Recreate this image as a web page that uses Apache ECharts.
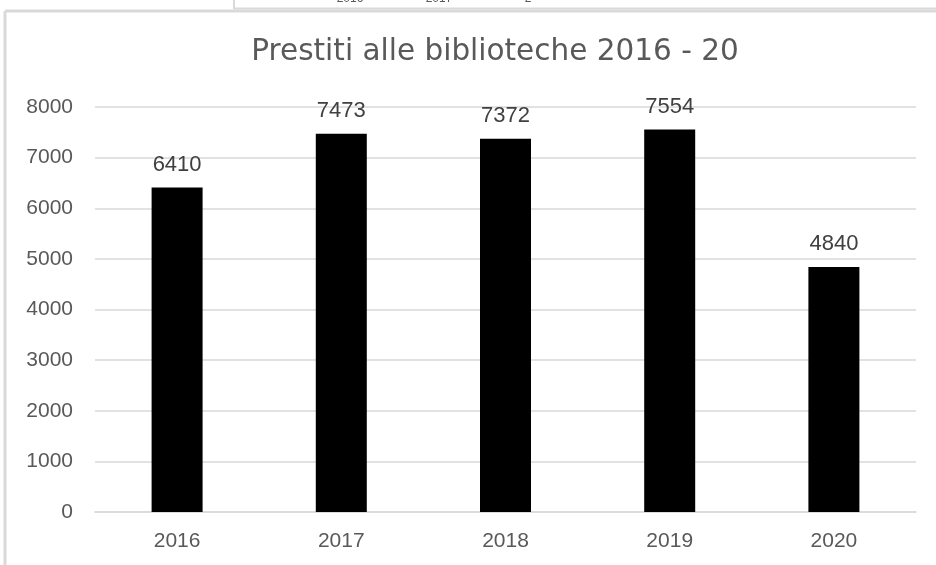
<!DOCTYPE html>
<html>
<head>
<meta charset="utf-8">
<script src="https://cdn.jsdelivr.net/npm/echarts@6/dist/echarts.min.js"></script>
<style>
  html, body { margin: 0; padding: 0; background: #fff; }
  #chart { width: 936px; height: 565px; }
</style>
</head>
<body>
<div id="chart"></div>
<script>
const years = ['2016', '2017', '2018', '2019', '2020']
const loans = [6410, 7473, 7372, 7554, 4840]
const topStripLabels = ['2016', '2017', '2']

const chart = echarts.init(document.getElementById('chart'))
const font = 'Liberation Sans, Arial, sans-serif'

chart.setOption({
  animation: false,
  title: {
    text: 'Prestiti alle biblioteche 2016 - 20',
    left: 490,
    textAlign: 'center',
    top: 32,
    textStyle: { fontFamily: 'DejaVu Sans', fontSize: 29.5, fontWeight: 'normal', color: '#595959' }
  },
  grid: { left: 95, right: 20, top: 107, bottom: 53 },
  xAxis: {
    type: 'category',
    data: years,
    axisLine: { lineStyle: { color: '#d9d9d9', width: 1.5 } },
    axisTick: { show: false },
    axisLabel: { fontFamily: font, fontSize: 21, color: '#595959', margin: 19 }
  },
  yAxis: {
    type: 'value',
    min: 0,
    max: 8000,
    interval: 1000,
    axisLine: { show: false },
    axisTick: { show: false },
    splitLine: { lineStyle: { color: '#d9d9d9', width: 1.5 } },
    axisLabel: { fontFamily: font, fontSize: 21, color: '#595959', margin: 22, formatter: v => String(v) }
  },
  series: [{
    type: 'bar',
    data: loans,
    barWidth: 51,
    itemStyle: { color: '#000' },
    label: {
      show: true,
      position: 'top',
      distance: 12,
      fontFamily: font,
      fontSize: 22,
      color: '#404040'
    }
  }],
  graphic: [
    { type: 'line', shape: { x1: 5, y1: 11, x2: 5, y2: 565 }, style: { stroke: '#d9d9d9', lineWidth: 3 } },
    { type: 'line', shape: { x1: 5, y1: 11, x2: 936, y2: 11 }, style: { stroke: '#d9d9d9', lineWidth: 3 } },
    { type: 'line', shape: { x1: 234, y1: 0, x2: 234, y2: 9 }, style: { stroke: '#d9d9d9', lineWidth: 2 } },
    { type: 'line', shape: { x1: 234, y1: 8.5, x2: 936, y2: 8.5 }, style: { stroke: '#d9d9d9', lineWidth: 2 } }
  ].concat(topStripLabels.map((t, i) => ({
    type: 'text',
    x: 350 + i * 89,
    y: -7,
    style: { text: t, fontFamily: font, fontSize: 12, fill: '#595959', textAlign: 'center' }
  })))
})
</script>
</body>
</html>
